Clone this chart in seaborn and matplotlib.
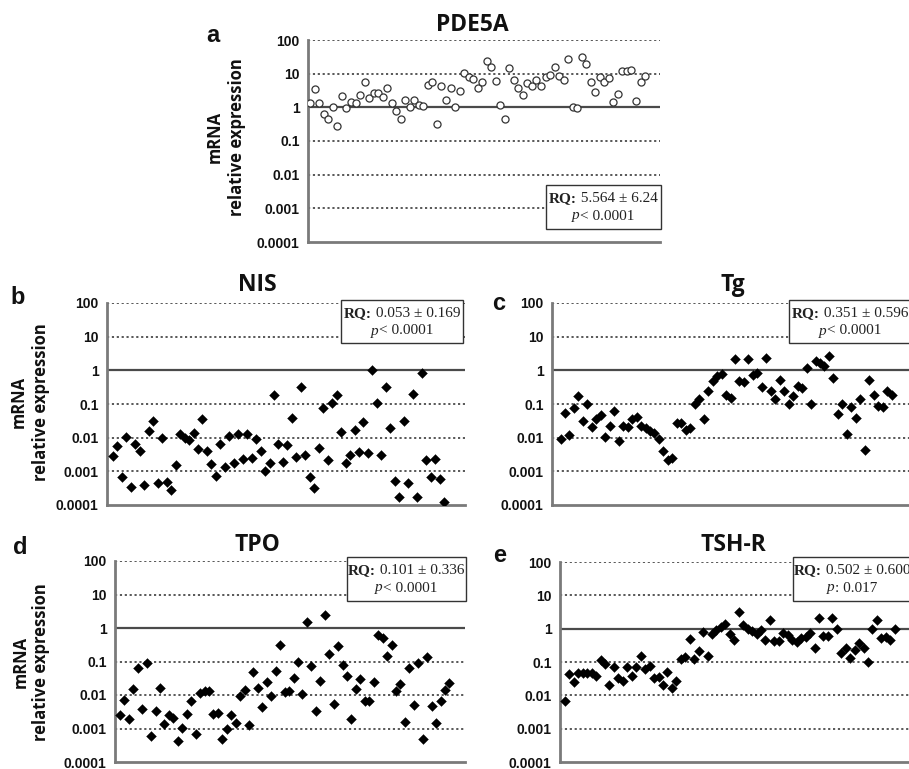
import numpy as np
import pandas as pd
import matplotlib
matplotlib.use("Agg")
import matplotlib.pyplot as plt
import seaborn as sns
from matplotlib.patches import Rectangle

# ---------------- data ----------------
tick_values = [0.0001, 0.001, 0.01, 0.1, 1, 10, 100]
tick_labels = ["0.0001", "0.001", "0.01", "0.1", "1", "10", "100"]

pde5a = [1.35, 3.5, 1.35, 0.65, 0.46, 1.0, 0.27, 2.2, 0.95, 1.4,
         1.35, 2.3, 5.6, 1.9, 2.7, 2.7, 2.0, 3.7, 1.35, 0.78,
         0.44, 1.7, 1.0, 1.7, 1.2, 1.1, 4.6, 5.5, 0.31, 4.3,
         1.7, 3.7, 1.0, 3.1, 10.8, 7.7, 6.9, 3.7, 5.7, 24,
         16, 6.0, 1.15, 0.46, 15, 6.6, 3.7, 2.3, 5.3, 4.3,
         6.7, 4.4, 7.7, 9.0, 16, 8.6, 6.6, 28, 1.0, 0.95,
         32, 19, 5.6, 2.9, 7.9, 5.5, 7.4, 1.4, 2.5, 11.8,
         11.8, 13, 1.5, 5.6, 8.5]

nis = [0.0028, 0.0055, 0.00066, 0.0107, 0.00035, 0.0063, 0.0040, 0.00038, 0.016, 0.031,
       0.00046, 0.0098, 0.00049, 0.00027, 0.0015, 0.0126, 0.010, 0.0085, 0.0135, 0.0045,
       0.036, 0.0041, 0.0016, 0.00074, 0.0064, 0.0013, 0.011, 0.0018, 0.0126, 0.0023,
       0.0126, 0.0025, 0.0090, 0.0041, 0.0010, 0.0018, 0.19, 0.0063, 0.0019, 0.0060,
       0.038, 0.0027, 0.33, 0.0031, 0.00068, 0.00032, 0.0051, 0.078, 0.0021, 0.11,
       0.18, 0.0146, 0.0018, 0.003, 0.0166, 0.0037, 0.029, 0.0036, 1.05, 0.11,
       0.0031, 0.32, 0.0195, 0.0005, 0.00017, 0.032, 0.00044, 0.20, 0.00017, 0.85,
       0.0022, 0.00066, 0.0024, 0.00060, 0.000125]

tg = [0.0094, 0.053, 0.0123, 0.078, 0.17, 0.031, 0.103, 0.021, 0.037, 0.047,
      0.0106, 0.022, 0.062, 0.0077, 0.022, 0.021, 0.037, 0.042, 0.022, 0.020,
      0.016, 0.0135, 0.0090, 0.0041, 0.0021, 0.0025, 0.027, 0.028, 0.017, 0.019,
      0.10, 0.145, 0.037, 0.245, 0.48, 0.68, 0.76, 0.186, 0.155, 2.2,
      0.48, 0.45, 2.2, 0.74, 0.85, 0.33, 2.3, 0.25, 0.145, 0.5,
      0.24, 0.103, 0.17, 0.34, 0.29, 1.17, 0.103, 1.9, 1.7, 1.3,
      2.7, 0.6, 0.05, 0.098, 0.0127, 0.082, 0.039, 0.138, 0.0044, 0.52,
      0.186, 0.088, 0.08, 0.24, 0.19]

tpo = [0.0025, 0.0071, 0.0019, 0.0154, 0.062, 0.0038, 0.093, 0.00058, 0.0033, 0.016,
       0.0014, 0.0025, 0.0021, 0.00041, 0.00102, 0.0028, 0.0066, 0.00068, 0.0112, 0.013,
       0.013, 0.0028, 0.003, 0.00048, 0.00095, 0.0025, 0.0015, 0.0095, 0.014, 0.00126,
       0.048, 0.016, 0.0045, 0.025, 0.0095, 0.052, 0.32, 0.0125, 0.013, 0.032,
       0.098, 0.0105, 1.55, 0.071, 0.0034, 0.026, 2.4, 0.17, 0.0055, 0.30,
       0.078, 0.036, 0.0019, 0.015, 0.030, 0.0066, 0.0066, 0.025, 0.60, 0.51,
       0.147, 0.31, 0.0135, 0.021, 0.0016, 0.062, 0.0052, 0.091, 0.0005, 0.138,
       0.0048, 0.0015, 0.0066, 0.014, 0.023]

tshr = [0.0068, 0.043, 0.025, 0.047, 0.048, 0.047, 0.046, 0.037, 0.117, 0.089,
        0.021, 0.069, 0.034, 0.027, 0.071, 0.037, 0.071, 0.15, 0.06, 0.075,
        0.032, 0.036, 0.021, 0.05, 0.017, 0.027, 0.12, 0.14, 0.50, 0.125,
        0.21, 0.79, 0.155, 0.69, 0.91, 1.15, 1.35, 0.68, 0.46, 3.1,
        1.26, 1.0, 0.83, 0.68, 0.91, 0.47, 1.8, 0.42, 0.42, 0.76,
        0.66, 0.47, 0.41, 0.52, 0.58, 0.73, 0.26, 2.15, 0.6, 0.6,
        2.15, 1.0, 0.18, 0.26, 0.13, 0.23, 0.37, 0.27, 0.1, 1.0,
        1.8, 0.52, 0.56, 0.45, 1.0]

titles = ["PDE5A", "NIS", "Tg", "TPO", "TSH-R"]
letters = ["a", "b", "c", "d", "e"]
rq_texts = ["5.564 \u00b1 6.24", "0.053 \u00b1 0.169", "0.351 \u00b1 0.596",
            "0.101 \u00b1 0.336", "0.502 \u00b1 0.600"]
p_texts = ["< 0.0001", "< 0.0001", "< 0.0001", "< 0.0001", ": 0.017"]
series = [pde5a, nis, tg, tpo, tshr]

# ---------------- style ----------------
sns.set_theme(style="white")
plt.rcParams["font.family"] = ["Liberation Sans", "DejaVu Sans"]

W, H = 909, 769
fig = plt.figure(figsize=(W / 100, H / 100), dpi=100)
fig.patch.set_facecolor("white")
renderer = fig.canvas.get_renderer()


def fx(x):
    return x / W


def fy(y):
    return 1 - y / H


def rich_line(xc, y, parts, size=11):
    """Draw a line made of differently styled pieces, centred on xc (pixels)."""
    objs = []
    for s, kw in parts:
        t = fig.text(0, fy(y), s, ha="left", va="center", fontsize=size,
                     family="Liberation Serif", color="#222222", zorder=6, **kw)
        objs.append(t)
    widths = [t.get_window_extent(renderer).width for t in objs]
    x = xc - sum(widths) / 2
    for t, w in zip(objs, widths):
        t.set_x(fx(x))
        x += w


layout = [
    dict(l=308, t=40, r=660, b=242, xlim=(-0.5, 77.3), box=(546, 185, 661, 229),
         let=(213, 35), ylab=(215, 237, 137), title=(472, 25), cx=603),
    dict(l=107, t=303, r=465, b=505, xlim=(-1.34, 78.7), box=(341, 300, 463, 343),
         let=(18, 297), ylab=(19, 41, 402), title=(257, 285), cx=402),
    dict(l=552, t=303, r=909, b=505, xlim=(-1.9, 77.9), box=(789, 300, 913, 343),
         let=(499, 303), ylab=None, title=(733, 285), cx=850),
    dict(l=115, t=561, r=465, b=762, xlim=(-1.1, 77.5), box=(347, 557, 466, 601),
         let=(20, 548), ylab=(21, 41, 662), title=(257, 545), cx=406),
    dict(l=560, t=562, r=909, b=762, xlim=(-1.1, 77.2), box=(793, 557, 913, 601),
         let=(500, 556), ylab=None, title=(733, 545), cx=852),
]

grid_col = "#4a4a4a"
spine_col = "#7a7a7a"

for i, (vals, lay) in enumerate(zip(series, layout)):
    ax = fig.add_axes([fx(lay["l"]), fy(lay["b"]), fx(lay["r"] - lay["l"]),
                       (lay["b"] - lay["t"]) / H])
    ax.set_facecolor("none")
    df = pd.DataFrame({"sample": np.arange(len(vals)), "expr": vals})
    ax.set_yscale("log")
    ax.set_ylim(1e-4, 100)
    ax.set_xlim(*lay["xlim"])
    for tv in tick_values[1:]:
        if tv == 1:
            ax.axhline(tv, color=grid_col, lw=1.6, ls="-", zorder=1)
        else:
            ax.axhline(tv, color=grid_col, lw=1.3, ls=(0, (1.2, 1.5)), zorder=1)
    if i == 0:
        sns.scatterplot(data=df, x="sample", y="expr", ax=ax, marker="o", s=26,
                        facecolor="white", edgecolor="#333333", linewidth=0.9,
                        zorder=3, legend=False)
    else:
        sns.scatterplot(data=df, x="sample", y="expr", ax=ax, marker="D", s=25,
                        color="black", edgecolor="black", linewidth=0.3,
                        zorder=3, legend=False)
    ax.set_xlabel("")
    ax.set_ylabel("")
    ax.set_xticks([])
    ax.set_yticks(tick_values)
    ax.set_yticklabels(tick_labels)
    ax.yaxis.set_minor_locator(matplotlib.ticker.NullLocator())
    ax.tick_params(axis="y", direction="out", length=4, width=1.2, color=spine_col,
                   pad=2, labelsize=10)
    for lab in ax.get_yticklabels():
        lab.set_fontweight("bold")
        lab.set_color("#111111")
    for s in ["top", "right"]:
        ax.spines[s].set_visible(False)
    for s in ["left", "bottom"]:
        ax.spines[s].set_color(spine_col)
        ax.spines[s].set_linewidth(2)
        ax.spines[s].set_zorder(2)

    fig.text(fx(lay["title"][0]), fy(lay["title"][1]), titles[i], ha="center",
             va="center", fontsize=16.5, fontweight="bold", family="Open Sans",
             color="#111111")
    fig.text(fx(lay["let"][0]), fy(lay["let"][1]), letters[i], ha="center",
             va="center", fontsize=17, fontweight="bold", color="#111111")
    if lay["ylab"] is not None:
        x1, x2, yc = lay["ylab"]
        fig.text(fx(x1), fy(yc), "mRNA", rotation=90, ha="center", va="center",
                 fontsize=12, fontweight="bold", family="Open Sans", color="#111111")
        fig.text(fx(x2), fy(yc), "relative expression", rotation=90, ha="center",
                 va="center", fontsize=12, fontweight="bold", family="Open Sans",
                 color="#111111")

    bx0, by0, bx1, by1 = lay["box"]
    rect = Rectangle((fx(bx0), fy(by1)), fx(bx1 - bx0), (by1 - by0) / H,
                     transform=fig.transFigure, facecolor="white",
                     edgecolor="#333333", linewidth=1.0, zorder=5)
    fig.add_artist(rect)
    rich_line(lay["cx"], by0 + 14, [("RQ:", dict(fontweight="bold")),
                                    (" " + rq_texts[i], dict())])
    rich_line(lay["cx"], by0 + 31, [("p", dict(fontstyle="italic")),
                                    (p_texts[i], dict())])

fig.savefig("out.png", dpi=100, facecolor="white")
